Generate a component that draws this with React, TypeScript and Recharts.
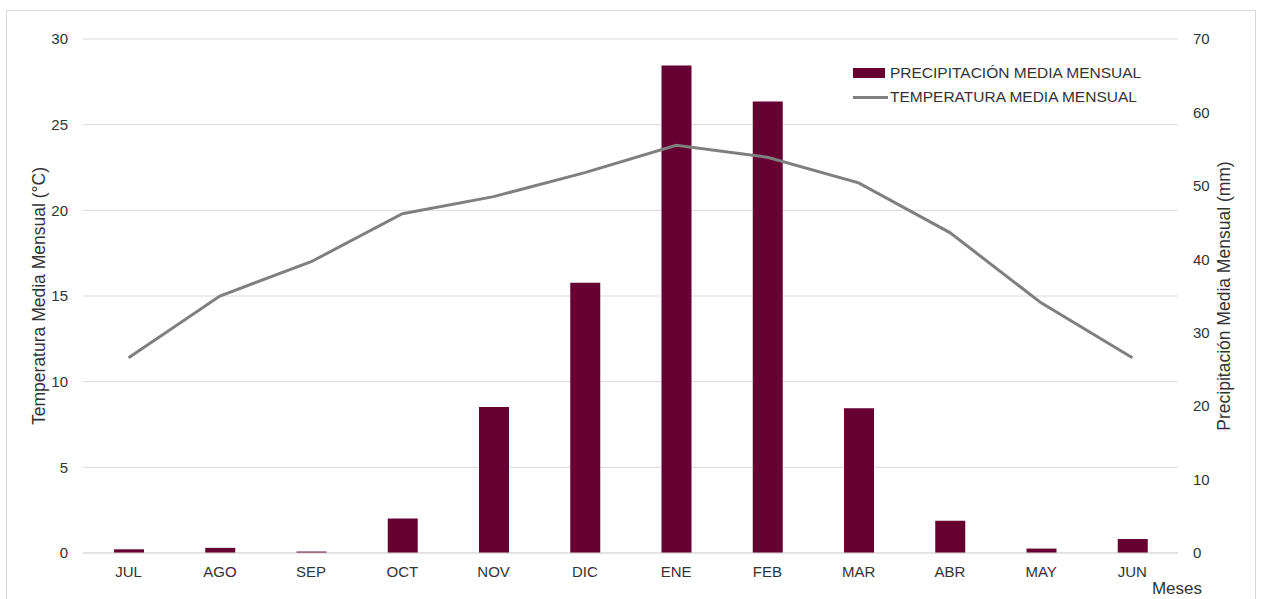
import React from "react";
import {
  ComposedChart,
  Bar,
  Line,
  XAxis,
  YAxis,
  CartesianGrid,
  Legend,
} from "recharts";

const months = ["JUL", "AGO", "SEP", "OCT", "NOV", "DIC", "ENE", "FEB", "MAR", "ABR", "MAY", "JUN"];
// mm
const precipitation = [0.5, 0.7, 0.2, 4.7, 19.9, 36.8, 66.4, 61.5, 19.7, 4.4, 0.6, 1.9];
// °C
const temperature = [11.4, 15.0, 17.0, 19.8, 20.8, 22.2, 23.8, 23.1, 21.6, 18.7, 14.6, 11.4];
const tempTicks = [0, 5, 10, 15, 20, 25, 30];
const rainTicks = [0, 10, 20, 30, 40, 50, 60, 70];

const COLORS = {
  rain: "#660033",
  temp: "#7f7f7f",
  grid: "#d9d9d9",
  text: "#333333",
};

const FONT = "'Liberation Sans', Arial, sans-serif";

const data = months.map((mes, i) => ({
  mes,
  precip: precipitation[i],
  temp: temperature[i],
}));

const tickStyle = { fontSize: 15, fill: COLORS.text, fontFamily: FONT };

const LegendBox = () => (
  <div style={{ fontFamily: FONT, fontSize: 15.5, color: COLORS.text, lineHeight: "24px" }}>
    <div style={{ display: "flex", alignItems: "center" }}>
      <span style={{ width: 32, height: 10, background: COLORS.rain, marginRight: 5 }} />
      PRECIPITACIÓN MEDIA MENSUAL
    </div>
    <div style={{ display: "flex", alignItems: "center" }}>
      <span style={{ width: 35, height: 3, background: COLORS.temp, marginRight: 2 }} />
      TEMPERATURA MEDIA MENSUAL
    </div>
  </div>
);

const sideTitle = (text: string, dx: number) => (props: any) => {
  const { x, y, height } = props.viewBox;
  const cx = x + dx;
  const cy = y + height / 2;
  return (
    <text
      x={cx}
      y={cy}
      transform={`rotate(-90 ${cx} ${cy})`}
      textAnchor="middle"
      dominantBaseline="central"
      fontSize={17.5}
      fontFamily={FONT}
      fill={COLORS.text}
    >
      {text}
    </text>
  );
};

const mesesTitle = (props: any) => {
  const { x, y, width } = props.viewBox;
  return (
    <text
      x={x + width - 1}
      y={y + 41}
      textAnchor="middle"
      fontSize={17}
      fontFamily={FONT}
      fill={COLORS.text}
    >
      Meses
    </text>
  );
};

export default function App() {
  return (
    <div
      style={{
        position: "absolute",
        left: 0,
        top: 0,
        width: 1261,
        height: 599,
        overflow: "hidden",
        background: "#fff",
      }}
    >
      <div
        style={{
          position: "absolute",
          left: 6,
          top: 10,
          width: 1248,
          height: 620,
          border: `1px solid ${COLORS.grid}`,
        }}
      />
      <div style={{ position: "absolute", left: 0, top: 0 }}>
        <ComposedChart
          width={1261}
          height={599}
          data={data}
          margin={{ top: 39, right: 0, bottom: 16, left: 0 }}
        >
          <CartesianGrid vertical={false} stroke={COLORS.grid} yAxisId="temp" />
          <XAxis
            dataKey="mes"
            height={30}
            tickLine={false}
            tickSize={0}
            tickMargin={13}
            axisLine={{ stroke: COLORS.grid }}
            tick={tickStyle}
            interval={0}
            label={{ content: mesesTitle }}
          />
          <YAxis
            yAxisId="temp"
            orientation="left"
            width={83}
            domain={[0, 30]}
            ticks={tempTicks}
            axisLine={false}
            tickLine={false}
            tickSize={0}
            tickMargin={15}
            tick={tickStyle}
            label={{ content: sideTitle("Temperatura Media Mensual (°C)", 39) }}
          />
          <YAxis
            yAxisId="rain"
            orientation="right"
            width={83}
            domain={[0, 70]}
            ticks={rainTicks}
            axisLine={false}
            tickLine={false}
            tickSize={0}
            tickMargin={15}
            tick={tickStyle}
            label={{ content: sideTitle("Precipitación Media Mensual (mm)", 46) }}
          />
          {/* floating legend: middle/center keeps it from reserving plot space */}
          <Legend
            content={<LegendBox />}
            layout="horizontal"
            verticalAlign="middle"
            align="center"
            wrapperStyle={{ top: 61, left: 853, width: 340 }}
          />
          <Bar
            yAxisId="rain"
            dataKey="precip"
            fill={COLORS.rain}
            barSize={30}
            isAnimationActive={false}
          />
          <Line
            yAxisId="temp"
            dataKey="temp"
            type="linear"
            stroke={COLORS.temp}
            strokeWidth={3}
            dot={false}
            isAnimationActive={false}
          />
        </ComposedChart>
      </div>
    </div>
  );
}
